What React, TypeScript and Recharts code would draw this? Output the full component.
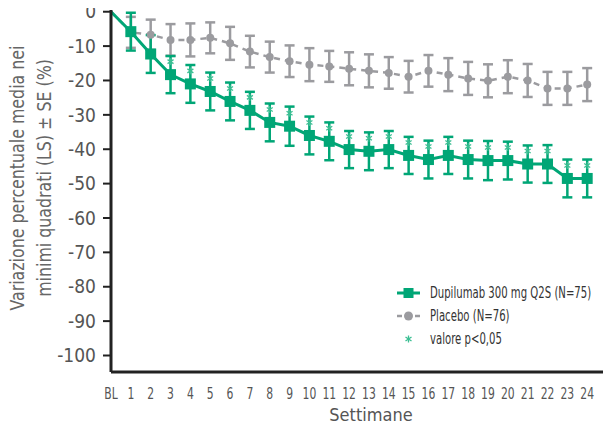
import React from 'react';
import { LineChart, Line, XAxis, YAxis, ErrorBar } from 'recharts';

const weeks = [0, 1, 2, 3, 4, 5, 6, 7, 8, 9, 10, 11, 12, 13, 14, 15, 16, 17, 18, 19, 20, 21, 22, 23, 24];
const weekLabels = ['BL', '1', '2', '3', '4', '5', '6', '7', '8', '9', '10', '11', '12', '13', '14', '15', '16', '17', '18', '19', '20', '21', '22', '23', '24'];
const dupilumab = [0, -5.8, -12.3, -18.3, -21.0, -23.2, -26.1, -28.7, -32.2, -33.3, -36.0, -37.7, -40.1, -40.6, -40.1, -41.8, -43.0, -41.8, -43.0, -43.3, -43.3, -44.3, -44.3, -48.5, -48.5];
const dupilumabSE = [0, 5.5, 5.5, 5.4, 5.5, 5.5, 5.5, 5.4, 5.5, 5.7, 5.5, 5.5, 5.4, 5.5, 5.4, 5.4, 5.5, 5.4, 5.5, 5.7, 5.5, 5.4, 5.5, 5.5, 5.5];
const placebo = [0, -6.0, -6.7, -8.2, -8.2, -7.6, -9.2, -11.6, -13.2, -14.4, -15.4, -15.9, -16.6, -17.2, -17.8, -18.9, -17.2, -18.3, -19.4, -20.1, -18.9, -20.0, -22.3, -22.3, -21.2];
const placeboSE = [0, 4.5, 4.4, 4.6, 4.8, 4.5, 4.8, 4.6, 4.5, 4.6, 4.8, 4.5, 4.8, 4.8, 4.6, 4.6, 4.6, 4.8, 4.8, 4.8, 4.8, 4.8, 4.8, 4.8, 4.8];
const significant = [false, false, false, true, true, true, true, true, true, true, true, true, true, true, true, true, true, true, true, true, true, true, true, true, true];
const yTicks = [0, -10, -20, -30, -40, -50, -60, -70, -80, -90, -100];
const legendLabels = ['Dupilumab 300 mg Q2S (N=75)', 'Placebo (N=76)', 'valore p<0,05'];

const GREEN = '#00a676';
const GRAY = '#9b9b9f';
const AST = '#3cbf93';
const FONT = "'DejaVu Sans Condensed', 'DejaVu Sans', sans-serif";

const data = weeks.map((w, i) => ({
  week: w,
  dupi: dupilumab[i],
  dupiErr: dupilumabSE[i],
  plac: placebo[i],
  placErr: placeboSE[i],
  sig: significant[i],
}));

const Asterisk = ({ x, y }: { x: number; y: number }) => (
  <g stroke={AST} strokeWidth={1.3}>
    <line x1={x} y1={y - 3.5} x2={x} y2={y + 3.5} />
    <line x1={x - 3} y1={y - 2} x2={x + 3} y2={y + 2} />
    <line x1={x - 3} y1={y + 2} x2={x + 3} y2={y - 2} />
  </g>
);

const GreenDot = (props: any) => {
  const { cx, cy, payload, index } = props;
  if (payload.week === 0 || cx == null) return <g key={`gd-${index}`} />;
  return (
    <g key={`gd-${index}`}>
      <rect x={cx - 5.5} y={cy - 5.5} width={11} height={11} fill={GREEN} />
      {payload.sig ? <Asterisk x={cx} y={cy - 13} /> : null}
    </g>
  );
};

const GrayDot = (props: any) => {
  const { cx, cy, payload, index } = props;
  if (payload.week === 0 || cx == null) return <g key={`pd-${index}`} />;
  return <circle key={`pd-${index}`} cx={cx} cy={cy} r={4} fill={GRAY} />;
};

const XTick = (props: any) => {
  const { x, y, payload } = props;
  return (
    <g transform={`translate(${x}, ${y}) scale(0.8, 1)`}>
      <text x={0} y={0} dy="0.71em" textAnchor="middle" fill="#555" fontSize={15} fontFamily={FONT}>
        {weekLabels[weeks.indexOf(payload.value)]}
      </text>
    </g>
  );
};

const YLabel = (props: any) => {
  const vb = props.viewBox || {};
  const cy = vb.y + 168;
  return (
    <g transform={`translate(30, ${cy}) rotate(-90)`}>
      <text x={0} y={0} textAnchor="middle" fill="#666" fontSize={20} fontFamily={FONT} transform="scale(0.88, 1)">
        <tspan x={0} dy={-6}>Variazione percentuale media nei</tspan>
        <tspan x={0} dy={27}>minimi quadrati (LS) ± SE (%)</tspan>
      </text>
    </g>
  );
};

const XLabel = (props: any) => {
  const vb = props.viewBox || {};
  return (
    <text x={vb.x + vb.width / 2 + 10} y={vb.y + 49} textAnchor="middle" fill="#555" fontSize={18} fontFamily={FONT}>
      Settimane
    </text>
  );
};

const LegendBox = () => (
  <svg width={217} height={72} style={{ position: 'absolute', left: 394, top: 281 }}>
    <g>
      <line x1={3} y1={12} x2={26} y2={12} stroke={GREEN} strokeWidth={3} />
      <rect x={9.5} y={7} width={10} height={10} fill={GREEN} />
      <line x1={3} y1={35} x2={26} y2={35} stroke={GRAY} strokeWidth={2.5} strokeDasharray="5 4" />
      <circle cx={14.5} cy={35} r={4.5} fill={GRAY} />
      <Asterisk x={14.5} y={58} />
    </g>
    {legendLabels.map((t, i) => (
      <g key={t} transform={`translate(36, ${12 + i * 23}) scale(0.75, 1)`}>
        <text x={0} y={0} dy="0.35em" fill="#333" fontSize={15} fontFamily={FONT}>{t}</text>
      </g>
    ))}
  </svg>
);

export default function App() {
  return (
    <div style={{ margin: -8, width: 611, height: 432, background: '#fff', position: 'relative', fontFamily: FONT }}>
      <LineChart width={611} height={432} data={data} margin={{ top: 10, right: 0, bottom: 0, left: 0 }}>
        <XAxis
          dataKey="week"
          type="number"
          domain={[0, 25.2]}
          ticks={weeks}
          interval={0}
          height={60}
          axisLine={{ stroke: '#222', strokeWidth: 3 }}
          tickLine={false}
          tickMargin={10}
          tick={<XTick />}
          label={<XLabel />}
        />
        <YAxis
          type="number"
          domain={[-104.8, 0.5]}
          ticks={yTicks}
          interval={0}
          width={111}
          axisLine={{ stroke: '#222', strokeWidth: 3 }}
          tickLine={{ stroke: '#222', strokeWidth: 2 }}
          tickSize={8}
          tickMargin={7}
          tick={{ fill: '#555', fontSize: 19, fontFamily: FONT }}
          label={<YLabel />}
        />
        <Line
          dataKey="plac"
          stroke={GRAY}
          strokeWidth={2.5}
          strokeDasharray="6 5"
          dot={GrayDot}
          activeDot={false}
          isAnimationActive={false}
        >
          <ErrorBar dataKey="placErr" stroke={GRAY} strokeWidth={2.5} width={5} direction="y" />
        </Line>
        <Line
          dataKey="dupi"
          stroke={GREEN}
          strokeWidth={3}
          dot={GreenDot}
          activeDot={false}
          isAnimationActive={false}
        >
          <ErrorBar dataKey="dupiErr" stroke={GREEN} strokeWidth={2.5} width={5} direction="y" />
        </Line>
      </LineChart>
      <LegendBox />
    </div>
  );
}
